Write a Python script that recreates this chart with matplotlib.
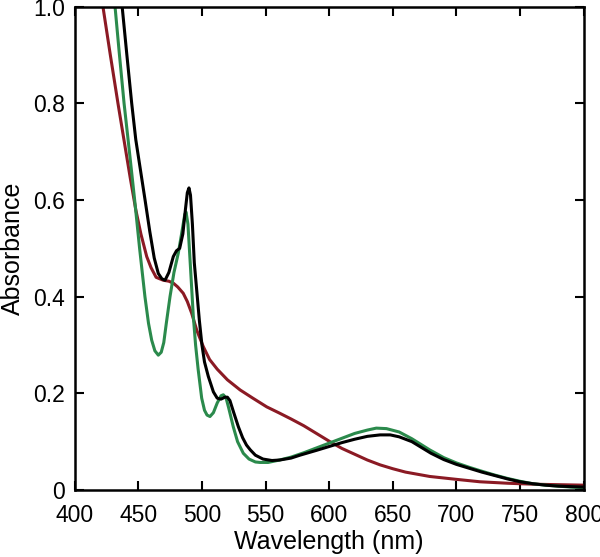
# espectros de absorcion UV-vis
import matplotlib
matplotlib.use("Agg")
import matplotlib.pyplot as plt

plt.rcParams['font.family'] = ['Liberation Sans', 'DejaVu Sans']

# curva negra
nm_negro = [430, 437.3, 441, 444.8, 448, 451.5, 455.3, 459, 462.5, 465.7, 468.5, 471,
            474, 477.5, 480, 482.5, 485, 487, 488.5, 489.8, 491, 492.5, 494, 496, 498,
            500, 502, 505, 509, 512, 515, 518, 520, 522, 525, 528.6, 532, 535, 538, 542,
            548, 555, 561, 570, 577, 590, 600, 610, 620, 630, 640, 648, 655, 665, 680,
            690, 700, 710, 720, 730, 740, 750, 760, 770, 780, 790, 800]
abs_negro = [1.19, 1.0, 0.90, 0.80, 0.725, 0.665, 0.60, 0.535, 0.48, 0.448, 0.437, 0.434,
             0.45, 0.483, 0.495, 0.50, 0.53, 0.58, 0.615, 0.625, 0.61, 0.55, 0.47, 0.41,
             0.35, 0.30, 0.265, 0.235, 0.203, 0.19, 0.188, 0.192, 0.192, 0.185, 0.16,
             0.131, 0.108, 0.093, 0.083, 0.072, 0.064, 0.061, 0.062, 0.066, 0.072, 0.082,
             0.090, 0.098, 0.105, 0.111, 0.114, 0.114, 0.110, 0.100, 0.076, 0.063, 0.053,
             0.045, 0.037, 0.030, 0.023, 0.017, 0.013, 0.010, 0.008, 0.007, 0.006]

# curva verde
nm_verde = [425, 431.7, 435, 438.8, 443, 447.4, 451, 455.2, 458, 460.5, 463, 465.7,
            468, 470, 472, 474.9, 478, 481.4, 484, 486.5, 487.5, 489, 491, 493.2, 495,
            497, 499.8, 502, 504, 506.3, 509, 512, 515, 516.8, 519, 521, 524.6, 528,
            532.5, 537, 542, 545.6, 552, 561, 570, 580, 590, 600, 610, 620, 630, 637,
            645, 655, 665, 679, 690, 700, 710, 718.5, 730, 740, 750, 760, 770, 780, 790,
            800]
abs_verde = [1.19, 1.0, 0.905, 0.80, 0.70, 0.593, 0.50, 0.40, 0.345, 0.31, 0.288, 0.279,
             0.285, 0.305, 0.345, 0.40, 0.45, 0.49, 0.53, 0.57, 0.575, 0.55, 0.46, 0.36,
             0.30, 0.25, 0.19, 0.165, 0.155, 0.152, 0.16, 0.18, 0.195, 0.197, 0.19, 0.17,
             0.131, 0.10, 0.076, 0.064, 0.058, 0.057, 0.057, 0.062, 0.068, 0.077, 0.087,
             0.097, 0.107, 0.117, 0.124, 0.128, 0.127, 0.120, 0.106, 0.083, 0.067, 0.056,
             0.047, 0.040, 0.031, 0.024, 0.018, 0.013, 0.010, 0.008, 0.006, 0.005]

# curva roja
nm_rojo = [412, 422.2, 428, 434, 439, 443.5, 448, 452, 456.6, 460, 464, 469.6, 474,
           477.5, 481, 485.3, 488.5, 491.9, 496, 501, 506, 512, 520, 530, 540, 550.9,
           561, 570, 580, 590, 600.6, 610, 620, 630, 640, 650, 660, 679, 700, 718.5,
           740, 760, 780, 800]
abs_rojo = [1.17, 1.0, 0.90, 0.80, 0.72, 0.648, 0.58, 0.53, 0.483, 0.46, 0.44, 0.434,
            0.432, 0.428, 0.42, 0.407, 0.39, 0.366, 0.33, 0.297, 0.27, 0.25, 0.228,
            0.207, 0.19, 0.172, 0.159, 0.147, 0.133, 0.117, 0.10, 0.086, 0.074, 0.062,
            0.052, 0.044, 0.037, 0.028, 0.022, 0.017, 0.014, 0.012, 0.011, 0.010]

x_ticks = [400, 450, 500, 550, 600, 650, 700, 750, 800]
y_ticks = [0, 0.2, 0.4, 0.6, 0.8, 1.0]
y_labels = ['0', '0.2', '0.4', '0.6', '0.8', '1.0']

fig = plt.figure(figsize=(6, 5.57), dpi=100)
ax = fig.add_axes([0.1245, 0.1203, 0.8483, 0.8677])

ax.plot(nm_rojo, abs_rojo, color='#8b1a24', lw=2.2)
ax.plot(nm_verde, abs_verde, color='#2b8a4c', lw=2.2)
ax.plot(nm_negro, abs_negro, color='black', lw=2.2)

ax.set_xlim(400, 800)
ax.set_ylim(0, 1.0)
ax.set_xticks(x_ticks)
ax.set_yticks(y_ticks)
ax.set_yticklabels(y_labels)
ax.tick_params(direction='in', length=6.5, width=1.5, labelsize=16.5,
               top=True, right=True)
ax.tick_params(axis='x', pad=10)
ax.tick_params(axis='y', pad=7)
for s in ax.spines.values():
    s.set_linewidth(1.8)

ax.set_xlabel('Wavelength (nm)', fontsize=18, labelpad=2)
ax.set_ylabel('Absorbance', fontsize=18, labelpad=6)

fig.savefig('out.png', dpi=100)
